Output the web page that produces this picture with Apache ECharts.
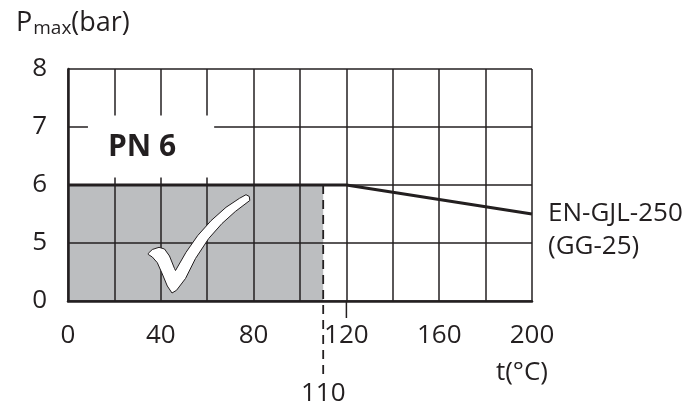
<!DOCTYPE html>
<html>
<head>
<meta charset="utf-8">
<script src="https://cdn.jsdelivr.net/npm/echarts@6/dist/echarts.min.js"></script>
<style>
html,body{margin:0;padding:0;background:#fff;}
#chart{width:683px;height:408px;}
</style>
</head>
<body>
<div id="chart"></div>
<script>
// ---- data ----
const yTickLabels = ['0', '5', '6', '7', '8'];
const xLabelValues = [0, 40, 80, 120, 160, 200];
const curveT = [0, 120, 200];
const curveP = [6, 6, 5.5];
const shadeT = [0, 110];
const shadeP = [6, 6];
const markT = 110;
const kneeT = 120;
const seriesLabel1 = 'EN-GJL-250';
const seriesLabel2 = '(GG-25)';
const pnText = 'PN 6';

// broken pressure axis: 0 -> 0, 5 -> 1, 6 -> 2, 7 -> 3, 8 -> 4
function pos(p) { return p <= 5 ? p / 5 : p - 4; }

const INK = '#231f20';
const FONT = 'Open Sans';

const chart = echarts.init(document.getElementById('chart'));

const option = {
  animation: false,
  backgroundColor: '#fff',
  textStyle: { fontFamily: FONT },
  grid: { left: 68, right: 151, top: 69, bottom: 107 },
  title: {
    left: 11, top: 3,
    text: '{a|P}{b|max}{a|(bar)}',
    textStyle: {
      fontWeight: 'normal',
      rich: {
        a: { fontFamily: FONT, fontSize: 27, fontWeight: 'normal', color: INK },
        b: { fontFamily: FONT, fontSize: 19, fontWeight: 'normal', color: INK, padding: [11, 0, 0, 1] }
      }
    }
  },
  xAxis: {
    type: 'value', min: 0, max: 200, interval: 20, z: 3,
    axisLine: { show: true, lineStyle: { color: INK, width: 2.5 } },
    axisTick: { show: false },
    axisLabel: {
      margin: 22, fontSize: 26, color: INK, fontFamily: FONT,
      formatter: v => xLabelValues.indexOf(v) >= 0 ? String(v) : ''
    },
    splitLine: { show: true, lineStyle: { color: INK, width: 1.5 } }
  },
  yAxis: {
    type: 'value', min: 0, max: 4, interval: 1, z: 3,
    axisLine: { show: true, lineStyle: { color: INK, width: 2.5 } },
    axisTick: { show: false },
    axisLabel: {
      margin: 21, fontSize: 26, color: INK, fontFamily: FONT,
      formatter: v => yTickLabels[Math.round(v)]
    },
    splitLine: { show: true, lineStyle: { color: INK, width: 1.5 } }
  },
  series: [
    {
      type: 'line', z: 1,
      data: shadeT.map((t, i) => [t, pos(shadeP[i])]),
      symbol: 'none',
      lineStyle: { width: 0 },
      areaStyle: { color: '#bcbec0', opacity: 1 }
    },
    {
      type: 'line', z: 10,
      data: curveT.map((t, i) => [t, pos(curveP[i])]),
      symbol: 'none',
      lineStyle: { color: INK, width: 3.2 }
    }
  ]
};
chart.setOption(option);

// decorations placed relative to the axes
const px = (t, p) => chart.convertToPixel({ gridIndex: 0 }, [t, pos(p)]);
const base = px(0, 0);
const top6 = px(markT, 6);
const tick120 = px(kneeT, 0);
const endPt = px(curveT[curveT.length - 1], curveP[curveP.length - 1]);
const boxA = chart.convertToPixel({ gridIndex: 0 }, [8.6, 3.2]);
const boxB = chart.convertToPixel({ gridIndex: 0 }, [63, 2.13]);
const chk = chart.convertToPixel({ gridIndex: 0 }, [45, 0.0]);

// check-mark outline (decoration), offsets from the plot's (45, 0) point
const checkShape = [
  [148.3, 253.3], [152.3, 249.5], [159, 247.3], [164.5, 249], [169.5, 256], [174.5, 268.5], [175.5, 270.5],
  [186, 252.3], [197.6, 235.7], [211, 220.7], [226, 207.3], [239.5, 198.3], [246, 194.7],
  [249.3, 196.5], [249.8, 200.5], [235.3, 211.5], [222, 223.5], [208.7, 238.5], [195.5, 258.5],
  [185.5, 278.5], [176.5, 290.3], [172, 293], [167.3, 286], [162.3, 274], [157.3, 262.7],
  [152.3, 257], [148.3, 254.5]
].map(p => [p[0] - 172.4 + chk[0], p[1] - 301 + chk[1]]);

chart.setOption({
  graphic: [
    { type: 'rect', z: 50, shape: { x: boxA[0], y: boxA[1], width: boxB[0] - boxA[0], height: boxB[1] - boxA[1] }, style: { fill: '#fff' } },
    { type: 'text', z: 51, x: (boxA[0] + boxB[0]) / 2 - 9, y: (boxA[1] + boxB[1]) / 2 + 1,
      style: { text: pnText, fontFamily: FONT, fontWeight: 'bold', fontSize: 30, fill: INK, align: 'center', verticalAlign: 'middle' } },
    { type: 'line', z: 20, shape: { x1: top6[0], y1: top6[1], x2: top6[0], y2: base[1] + 77 },
      style: { stroke: INK, lineWidth: 1.8, lineDash: [9, 6] } },
    { type: 'line', z: 20, shape: { x1: tick120[0], y1: tick120[1], x2: tick120[0], y2: tick120[1] + 17 },
      style: { stroke: INK, lineWidth: 1.5 } },
    { type: 'text', z: 20, x: top6[0], y: base[1] + 93,
      style: { text: String(markT), fontFamily: FONT, fontSize: 26, fill: INK, align: 'center', verticalAlign: 'middle' } },
    { type: 'text', z: 20, x: endPt[0] + 16, y: endPt[1],
      style: { text: seriesLabel1, fontFamily: FONT, fontSize: 26, fill: INK, align: 'left', verticalAlign: 'middle' } },
    { type: 'text', z: 20, x: endPt[0] + 16, y: endPt[1] + 33,
      style: { text: seriesLabel2, fontFamily: FONT, fontSize: 26, fill: INK, align: 'left', verticalAlign: 'middle' } },
    { type: 'text', z: 20, x: endPt[0] + 16, y: base[1] + 72,
      style: { text: 't(°C)', fontFamily: FONT, fontSize: 26, fill: INK, align: 'right', verticalAlign: 'middle' } },
    { type: 'polygon', z: 30, shape: { points: checkShape, smooth: 0 },
      style: { fill: '#fff', stroke: INK, lineWidth: 1 } }
  ]
});
</script>
</body>
</html>
